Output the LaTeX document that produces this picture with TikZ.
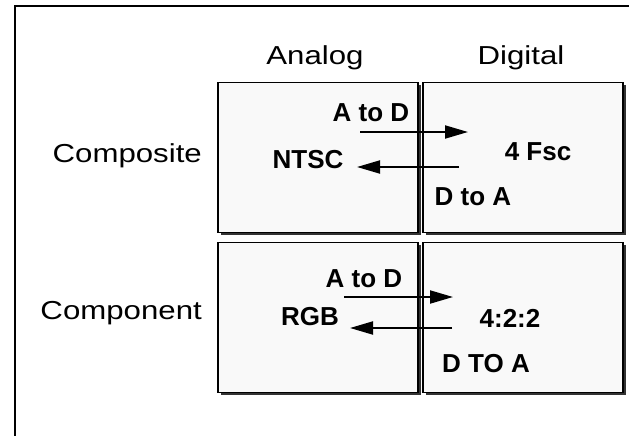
\documentclass[tikz,border=0pt]{standalone}
\usepackage{fontspec}
\setmainfont{Liberation Sans}
\newfontfamily\widefont{Liberation Sans}[FakeStretch=1.2]
\usepackage{tikz}
\usetikzlibrary{arrows.meta,positioning,shadows}
\definecolor{cellcolor}{RGB}{249, 249, 249}

\begin{document}
\begin{tikzpicture}[x=1pt,y=-1pt,cell/.style={draw,line width=1.3pt,fill=cellcolor,minimum width=200pt,minimum height=150pt,drop shadow={shadow xshift=2.5pt,shadow yshift=-2.5pt,fill=black!80,opacity=1}},hdr/.style={font=\widefont\fontsize{26}{30}\selectfont,inner sep=0pt},lbl/.style={font=\bfseries\fontsize{26}{30}\selectfont,inner sep=0pt},arr/.style={-{Triangle[length=23pt,width=13pt]},line width=2pt}]
\useasboundingbox (0,0) rectangle (629,436);
\draw[line width=1.7pt] (15,440) -- (15,6) -- (633,6);
\node[cell](anacomp) at (318,157.5){}; \node[cell](digcomp) at (523,157.5){};
\node[cell](anacomn) at (318,317.5){}; \node[cell](digcomn) at (523,317.5){};
\node[hdr,anchor=base](analog) at (315,64){Analog}; \node[hdr,anchor=base](digital) at (521,64){Digital};
\node[hdr,anchor=base east](composite) at (202,162){Composite}; \node[hdr,anchor=base east](component) at (202,319){Component};
% composite row
\node[lbl,anchor=base](adtop) at (371,121){A to D}; \node[lbl,anchor=base](ntsc) at (308,168){NTSC};
\node[lbl,anchor=base](fsc) at (538,160){4 Fsc}; \node[lbl,anchor=base](datop) at (473,205){D to A};
\coordinate (adtopS) at (360,132); \coordinate (adtopE) at (468,132);
\coordinate (datopS) at (459,167); \coordinate (datopE) at (357,167);
\draw[arr](adtopS)--(adtopE); \draw[arr](datopS)--(datopE);
% component row
\node[lbl,anchor=base](adbot) at (364,287){A to D}; \node[lbl,anchor=base](rgb) at (310,325){RGB};
\node[lbl,anchor=base](ccir) at (510,327){4:2:2}; \node[lbl,anchor=base](dabot) at (486,372){D TO A};
\coordinate (adbotS) at (344,297); \coordinate (adbotE) at (453,297);
\coordinate (dabotS) at (452,328); \coordinate (dabotE) at (350,328);
\draw[arr](adbotS)--(adbotE); \draw[arr](dabotS)--(dabotE);
\end{tikzpicture}
\end{document}
